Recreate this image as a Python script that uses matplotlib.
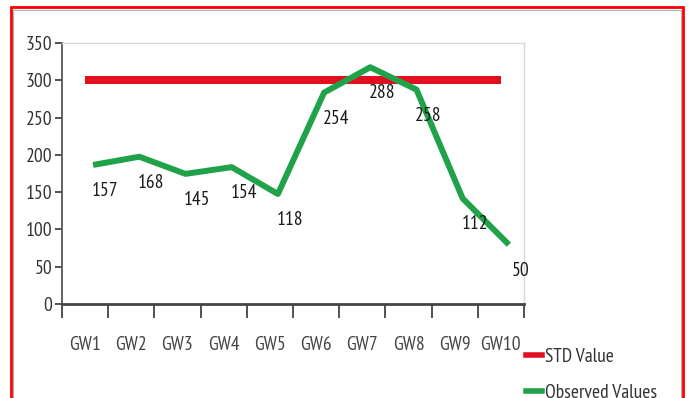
import matplotlib
matplotlib.use("Agg")
import matplotlib.pyplot as plt
from matplotlib.lines import Line2D
from matplotlib.patches import Rectangle
import matplotlib.transforms as mtransforms

wells = ['GW1', 'GW2', 'GW3', 'GW4', 'GW5', 'GW6', 'GW7', 'GW8', 'GW9', 'GW10']
observed = [157, 168, 145, 154, 118, 254, 288, 258, 112, 50]
std_value = [300] * 10
yticks = [0, 50, 100, 150, 200, 250, 300, 350]

plt.rcParams['font.family'] = ['PT Sans Narrow', 'DejaVu Sans']

W, H = 698, 398
fig = plt.figure(figsize=(W / 100, H / 100), dpi=100)
ax = fig.add_axes([62 / W, 1 - 304 / H, (524 - 62) / W, (304 - 43) / H])

x = list(range(len(wells)))

red = '#e01020'
green = '#1fa24a'

ax.plot(x, std_value, color=red, lw=5.8, solid_capstyle='butt', zorder=2)

# the green line sits a bit up/right of its labels in the original
shift = mtransforms.offset_copy(ax.transData, fig=fig, x=8, y=22, units='dots')
ax.plot(x, observed, color=green, lw=4.3, solid_joinstyle='round',
        solid_capstyle='butt', transform=shift, zorder=3)

for xi, v in zip(x, observed):
    ax.annotate(str(v), (xi, v), xytext=(20, -4), textcoords='offset pixels',
                ha='center', va='center', fontsize=14, color='#1a1a1a', zorder=4)

ax.set_xlim(-0.5, 9.5)
ax.set_ylim(0, 350)
ax.set_yticks(yticks)
ax.set_yticklabels([str(t) for t in yticks], fontsize=14, color='#333333')

ax.set_xticks(x)
ax.set_xticklabels(wells, fontsize=14, color='#444444')
ax.set_xticks([i - 0.5 for i in range(11)], minor=True)
ax.tick_params(axis='x', which='major', length=0, pad=23)
ax.tick_params(axis='x', which='minor', length=10, width=1.3, color='#444444', direction='out')
ax.tick_params(axis='y', length=5, width=1.3, color='#444444', pad=2)

for s in ['top', 'right']:
    ax.spines[s].set_color('#d8d8d8')
    ax.spines[s].set_linewidth(1.0)
ax.spines['left'].set_color('#555555')
ax.spines['left'].set_linewidth(1.3)
ax.spines['bottom'].set_color('#444444')
ax.spines['bottom'].set_linewidth(2.0)

handles = [Line2D([], [], color=red, lw=4),
           Line2D([], [], color=green, lw=4)]
fig.legend(handles, ['STD Value', 'Observed Values'], loc='upper left',
           bbox_to_anchor=(526 / W, 1 - 348 / H), frameon=False, fontsize=14,
           handlelength=0.8, handletextpad=0.2, labelspacing=0.9,
           borderpad=0, borderaxespad=0, labelcolor='#333333')

# outer frame
fig.add_artist(Rectangle((13 / W, -0.05), (681 - 13) / W, 1.05 - 10 / H,
                         transform=fig.transFigure, fill=False,
                         edgecolor='#b0b0b0', lw=0.8))
fig.add_artist(Rectangle((11 / W, -0.05), (683 - 11) / W, 1.05 - 7 / H,
                         transform=fig.transFigure, fill=False,
                         edgecolor='#ff0000', lw=2))

fig.savefig('out.png', dpi=100)
